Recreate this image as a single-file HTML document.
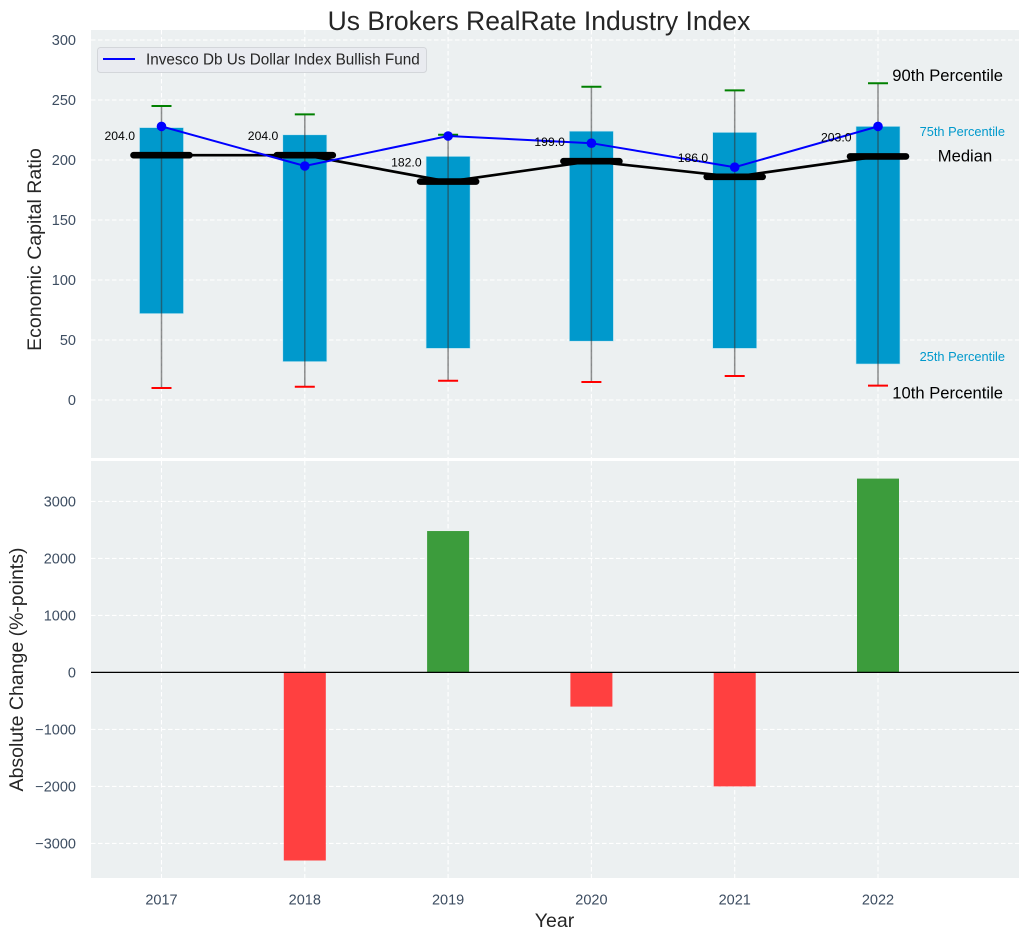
<!DOCTYPE html>
<html>
<head>
<meta charset="utf-8">
<title>Us Brokers RealRate Industry Index</title>
<style>
html,body{margin:0;padding:0;background:#fff;width:1029px;height:940px;overflow:hidden}
svg{display:block;font-family:"Liberation Sans",Arial,sans-serif}
</style>
</head>
<body>
<svg id="chart" xmlns="http://www.w3.org/2000/svg" width="1029" height="940" viewBox="0 0 1029 940"></svg>
<script>
const years = [2017, 2018, 2019, 2020, 2021, 2022];
const p90 = [245, 238, 221, 261, 258, 264];
const p75 = [227, 221, 203, 224, 223, 228];
const medians = [204, 204, 182, 199, 186, 203];
const p25 = [72, 32, 43, 49, 43, 30];
const p10 = [10, 11, 16, 15, 20, 12];
const fund = [228, 195, 220, 214, 194, 228];
const changes = [0, -3300, 2480, -600, -2000, 3400];
const topTicks = [0, 50, 100, 150, 200, 250, 300];
const bottomTicks = [-3000, -2000, -1000, 0, 1000, 2000, 3000];
const fundName = 'Invesco Db Us Dollar Index Bullish Fund';

const svg = document.getElementById('chart');
const NS = 'http://www.w3.org/2000/svg';
const LEFT = 91, RIGHT = 1019;
const X = i => 161.5 + i * 143.3;
const YT = v => 400 - v * 1.2;
const YB = v => 672.4 - v * 0.0570;

function add(parent, tag, attrs, text) {
  const el = document.createElementNS(NS, tag);
  for (const k in attrs) el.setAttribute(k, attrs[k]);
  if (text !== undefined) el.textContent = text;
  parent.appendChild(el);
  return el;
}
function group(name) {
  const g = document.createElementNS(NS, 'g');
  
  
  svg.appendChild(g);
  return g;
}
const fmt = v => (v < 0 ? '\u2212' + Math.abs(v) : String(v));

/* panels */
const panels = group('plot-panels');
let el = add(panels, 'rect', {x: LEFT, y: 30, width: RIGHT - LEFT, height: 428, fill: '#ecf0f1'});


el = add(panels, 'rect', {x: LEFT, y: 461, width: RIGHT - LEFT, height: 417, fill: '#ecf0f1'});



/* grid */
const grid = group('grid-lines');
const dash = {stroke: '#ffffff', 'stroke-width': 1.1, 'stroke-dasharray': '4.5 2.5', fill: 'none'};
topTicks.forEach(t => {
  const g = add(grid, 'line', Object.assign({x1: LEFT, x2: RIGHT, y1: YT(t), y2: YT(t)}, dash));
  
  
});
bottomTicks.forEach(t => {
  const g = add(grid, 'line', Object.assign({x1: LEFT, x2: RIGHT, y1: YB(t), y2: YB(t)}, dash));
  
  
});
years.forEach((y, i) => {
  let g = add(grid, 'line', Object.assign({x1: X(i), x2: X(i), y1: 30, y2: 458}, dash));
  
  
  g = add(grid, 'line', Object.assign({x1: X(i), x2: X(i), y1: 461, y2: 878}, dash));
  
  
});

/* boxes */
const boxes = group('percentile-boxes');
years.forEach((y, i) => {
  const b = add(boxes, 'rect', {x: X(i) - 22, y: YT(p75[i]), width: 44, height: YT(p25[i]) - YT(p75[i]), fill: '#0099cc', stroke: '#bfe4f0', 'stroke-width': 0.6});
  
  
});

/* whiskers */
const whiskers = group('whiskers');
years.forEach((y, i) => {
  let w = add(whiskers, 'line', {x1: X(i), x2: X(i), y1: YT(p90[i]), y2: YT(p10[i]), stroke: '#333333', 'stroke-opacity': 0.55, 'stroke-width': 1.5});
  
  
  w = add(whiskers, 'line', {x1: X(i) - 10, x2: X(i) + 10, y1: YT(p90[i]), y2: YT(p90[i]), stroke: '#008000', 'stroke-width': 2});
  
  
  w = add(whiskers, 'line', {x1: X(i) - 10, x2: X(i) + 10, y1: YT(p10[i]), y2: YT(p10[i]), stroke: '#ff0000', 'stroke-width': 2});
  
  
});

/* median line + heavy caps */
const med = group('median-series');
let ml = add(med, 'polyline', {points: medians.map((v, i) => X(i) + ',' + YT(v)).join(' '), fill: 'none', stroke: '#000000', 'stroke-width': 2.7});


years.forEach((y, i) => {
  const m = add(med, 'line', {x1: X(i) - 28, x2: X(i) + 28, y1: YT(medians[i]), y2: YT(medians[i]), stroke: '#000000', 'stroke-width': 6.6, 'stroke-linecap': 'round'});
  
  
});

/* fund */
const fs = group('fund-series');
let fl = add(fs, 'polyline', {points: fund.map((v, i) => X(i) + ',' + YT(v)).join(' '), fill: 'none', stroke: '#0000ff', 'stroke-width': 2});


years.forEach((y, i) => {
  const c = add(fs, 'circle', {cx: X(i), cy: YT(fund[i]), r: 4.8, fill: '#0000ff'});
  
  
});

/* median value labels */
const vl = group('median-value-labels');
years.forEach((y, i) => {
  const t = add(vl, 'text', {x: X(i) - 26.5, y: YT(medians[i]) - 15, 'text-anchor': 'end', 'font-size': 12.2, fill: '#000000'}, medians[i].toFixed(1));
  
  
});

/* annotations for last box */
const ann = group('percentile-annotations');
function note(name, x, y, size, fill, str, anchor) {
  const t = add(ann, 'text', {x: x, y: y, 'font-size': size, fill: fill, 'text-anchor': anchor}, str);
  
  
}
note('p90-annotation', 1003, 81, 16.6, '#000000', '90th Percentile', 'end');
note('p75-annotation', 1005, 136, 12.8, '#0099cc', '75th Percentile', 'end');
note('median-annotation', 965, 161.5, 16.6, '#000000', 'Median', 'middle');
note('p25-annotation', 1005, 361, 12.8, '#0099cc', '25th Percentile', 'end');
note('p10-annotation', 1003, 398.5, 16.6, '#000000', '10th Percentile', 'end');

/* legend */
const leg = group('legend');
add(leg, 'rect', {x: 97.5, y: 47.5, width: 329, height: 25, rx: 3, fill: '#e9ebf0', stroke: '#d3d6da', 'stroke-width': 1});
let ll = add(leg, 'line', {x1: 103, x2: 135, y1: 59, y2: 59, stroke: '#0000ff', 'stroke-width': 2});


ll = add(leg, 'text', {x: 146, y: 64.5, 'font-size': 15.3, fill: '#262626'}, fundName);



/* change bars */
const bars = group('change-bars');
years.forEach((y, i) => {
  if (!changes[i]) return;
  const top = Math.min(YB(changes[i]), YB(0));
  const h = Math.abs(YB(changes[i]) - YB(0));
  const b = add(bars, 'rect', {x: X(i) - 21, y: top, width: 42, height: h, fill: changes[i] > 0 ? '#3c9c3c' : '#ff4040'});
  
  
});
el = add(svg, 'line', {x1: LEFT, x2: RIGHT, y1: YB(0), y2: YB(0), stroke: '#000000', 'stroke-width': 1.2});



/* tick labels */
const tl = group('tick-labels');
const tickFill = '#3d4d61';
topTicks.forEach(t => {
  const e = add(tl, 'text', {x: 76, y: YT(t) + 5, 'text-anchor': 'end', 'font-size': 14.5, fill: tickFill}, fmt(t));
  
  
});
bottomTicks.forEach(t => {
  const e = add(tl, 'text', {x: 76, y: YB(t) + 5, 'text-anchor': 'end', 'font-size': 14.5, fill: tickFill}, fmt(t));
  
  
});
years.forEach((y, i) => {
  const e = add(tl, 'text', {x: X(i), y: 904.5, 'text-anchor': 'middle', 'font-size': 14.5, fill: tickFill}, String(y));
  
  
});

/* titles */
el = add(svg, 'text', {x: 539, y: 30, 'text-anchor': 'middle', 'font-size': 26.5, fill: '#262626'}, 'Us Brokers RealRate Industry Index');


el = add(svg, 'text', {x: 554.5, y: 927, 'text-anchor': 'middle', 'font-size': 19.5, fill: '#262626'}, 'Year');


el = add(svg, 'text', {x: 0, y: 0, transform: 'translate(41,249.5) rotate(-90)', 'text-anchor': 'middle', 'font-size': 19.5, fill: '#262626'}, 'Economic Capital Ratio');


el = add(svg, 'text', {x: 0, y: 0, transform: 'translate(23,669.5) rotate(-90)', 'text-anchor': 'middle', 'font-size': 19.5, fill: '#262626'}, 'Absolute Change (%-points)');


</script>
</body>
</html>
